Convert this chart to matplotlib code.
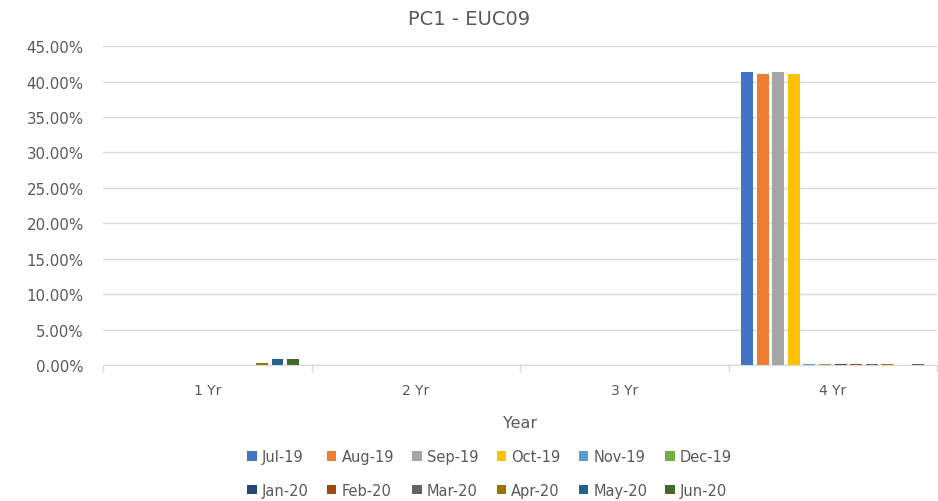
import numpy as np
import matplotlib.pyplot as plt
from matplotlib.patches import Patch
from matplotlib.ticker import FuncFormatter, MultipleLocator

# categorias e series (valores em %)
anos = ['1 Yr', '2 Yr', '3 Yr', '4 Yr']
meses = ['Jul-19', 'Aug-19', 'Sep-19', 'Oct-19', 'Nov-19', 'Dec-19',
         'Jan-20', 'Feb-20', 'Mar-20', 'Apr-20', 'May-20', 'Jun-20']
cores = ['#4472C4', '#ED7D31', '#A5A5A5', '#FFC000', '#5B9BD5', '#70AD47',
         '#264478', '#9E480E', '#636363', '#997300', '#255E91', '#43682B']

jul19 = [0.0, 0.0, 0.0, 41.4]
aug19 = [0.0, 0.0, 0.0, 41.1]
sep19 = [0.0, 0.0, 0.0, 41.3]
oct19 = [0.0, 0.0, 0.0, 41.1]
nov19 = [0.0, 0.0, 0.0, 0.2]
dec19 = [0.0, 0.0, 0.0, 0.2]
jan20 = [0.0, 0.0, 0.0, 0.2]
feb20 = [0.0, 0.0, 0.0, 0.2]
mar20 = [0.0, 0.0, 0.0, 0.2]
apr20 = [0.3, 0.0, 0.0, 0.2]
may20 = [0.85, 0.0, 0.0, 0.0]
jun20 = [0.8, 0.0, 0.0, 0.2]
series = [jul19, aug19, sep19, oct19, nov19, dec19,
          jan20, feb20, mar20, apr20, may20, jun20]

cinza = '#595959'
plt.rcParams['font.family'] = 'DejaVu Sans'

fig = plt.figure(figsize=(9.38, 5.02), dpi=100)
ax = fig.add_axes([0.110, 0.271, 0.889, 0.635])

x = np.arange(len(anos))
passo = 0.0747
larg = 0.0574
for i, (s, c) in enumerate(zip(series, cores)):
    ax.bar(x + (i - 5.5) * passo, s, width=larg, color=c, label=meses[i], zorder=3)

ax.set_xlim(-0.5, 3.5)
ax.set_ylim(0, 45)
ax.yaxis.set_major_locator(MultipleLocator(5))
ax.yaxis.set_major_formatter(FuncFormatter(lambda v, p: '%.2f%%' % v))
ax.grid(axis='y', color='#D9D9D9', linewidth=1, zorder=0)

ax.set_xticks(x)
ax.set_xticklabels(anos)
ax.set_xticks(np.arange(-0.5, 4, 1), minor=True)
ax.tick_params(axis='x', which='major', length=0, pad=13, labelsize=10, labelcolor=cinza)
ax.tick_params(axis='x', which='minor', length=5, color='#D9D9D9', width=1)
ax.tick_params(axis='y', length=0, pad=14, labelsize=10.8, labelcolor=cinza)

for lado in ['top', 'right', 'left']:
    ax.spines[lado].set_visible(False)
ax.spines['bottom'].set_color('#D9D9D9')
ax.spines['bottom'].set_zorder(4)

ax.set_xlabel('Year', fontsize=11.5, color=cinza, labelpad=13)
fig.text(0.5, 0.962, 'PC1 - EUC09', ha='center', va='center', fontsize=14, color=cinza)

handles = [Patch(facecolor=c) for c in cores]
ordem = []
for k in range(6):
    ordem += [k, k + 6]
leg = fig.legend([handles[k] for k in ordem], [meses[k] for k in ordem],
                 ncol=6, loc='center', bbox_to_anchor=(0.522, 0.055),
                 frameon=False, handlelength=0.65, handleheight=0.65,
                 handletextpad=0.35, columnspacing=1.25, labelspacing=1.25,
                 fontsize=10.5)
for t in leg.get_texts():
    t.set_color(cinza)

plt.savefig('out.png', dpi=100)
